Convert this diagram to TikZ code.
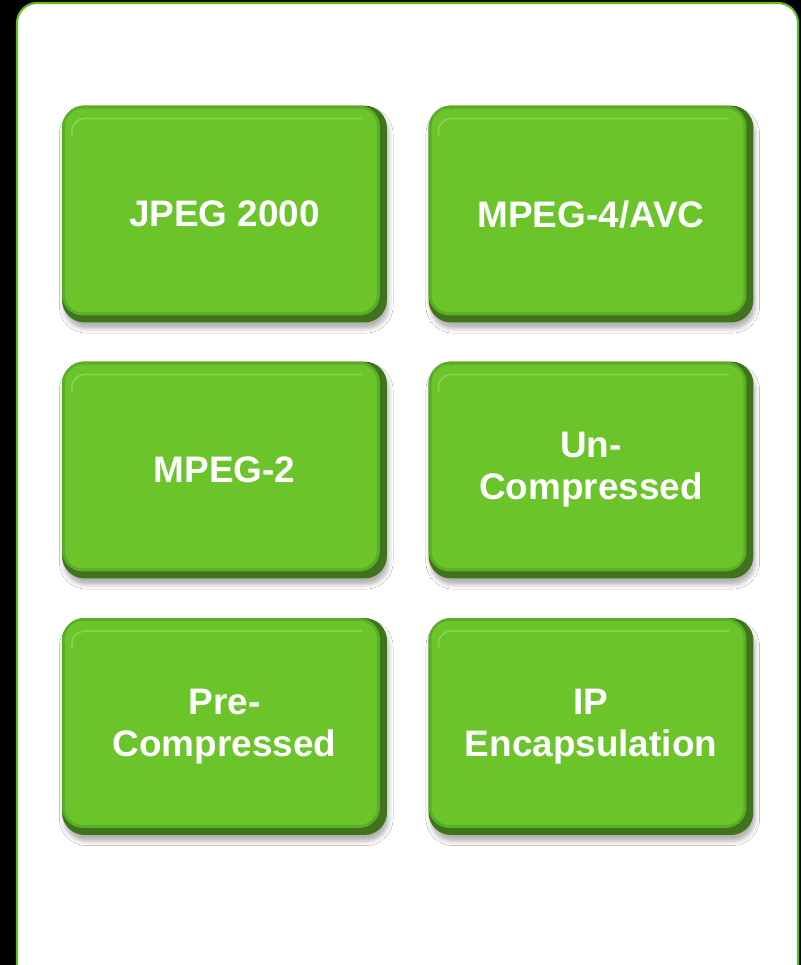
\documentclass[tikz,border=0pt]{standalone}
\usepackage{fontspec}
\setmainfont{Liberation Sans}
\usetikzlibrary{shadows.blur}

\definecolor{panelgreen}{HTML}{5DBE24}
\definecolor{boxgreen}{HTML}{6AC42A}
\definecolor{boxrim}{HTML}{5AAE26}
\definecolor{boxdark}{HTML}{3E751C}
\definecolor{boxlight}{HTML}{9ADF5E}

\tikzset{
  codec/.style={rounded corners=0.45cm, fill=boxdark, inner sep=0pt,
    minimum width=6.5cm, minimum height=4.34cm, text=white, align=center,
    font=\fontsize{21pt}{24pt}\selectfont\bfseries,
    blur shadow={shadow xshift=1pt, shadow yshift=-3.5pt, shadow blur radius=2.5pt, shadow opacity=30},
    path picture={
      \fill[boxrim, rounded corners=0.42cm] (path picture bounding box.north west)
        rectangle ([shift={(-0.14cm,0.14cm)}]path picture bounding box.south east);
      \fill[boxgreen, rounded corners=0.36cm] ([shift={(0.06cm,-0.06cm)}]path picture bounding box.north west)
        rectangle ([shift={(-0.2cm,0.2cm)}]path picture bounding box.south east);
      \draw[boxlight, line width=1pt, rounded corners=0.25cm, opacity=0.6]
        ([shift={(0.2cm,-0.6cm)}]path picture bounding box.north west)
        |- ([shift={(-0.5cm,-0.26cm)}]path picture bounding box.north east);
    }}
}

\begin{document}
\begin{tikzpicture}[x=0.02cm, y=-0.02cm, line join=round, line cap=round]
  \fill[black] (0,0) rectangle (801,965);
  \useasboundingbox (0,0) rectangle (801,965);
  % white panel
  \begin{scope}
    \clip (0,0) rectangle (801,965);
    \draw[panelgreen, line width=1.2pt, fill=white, rounded corners=0.4cm] (17,3) rectangle (798,1000);
  \end{scope}
  % codec boxes
  \node[codec] (jpeg)   at (224.5,214)   {JPEG 2000};
  \node[codec] (avc)    at (591,214)     {MPEG-4/AVC};
  \node[codec] (mpeg)   at (224.5,470)   {MPEG-2};
  \node[codec] (uncomp) at (591,470)     {Un-\\Compressed};
  \node[codec] (precomp) at (224.5,726.5) {Pre-\\Compressed};
  \node[codec] (ipenc)  at (591,726.5)   {IP\\Encapsulation};
\end{tikzpicture}
\end{document}
